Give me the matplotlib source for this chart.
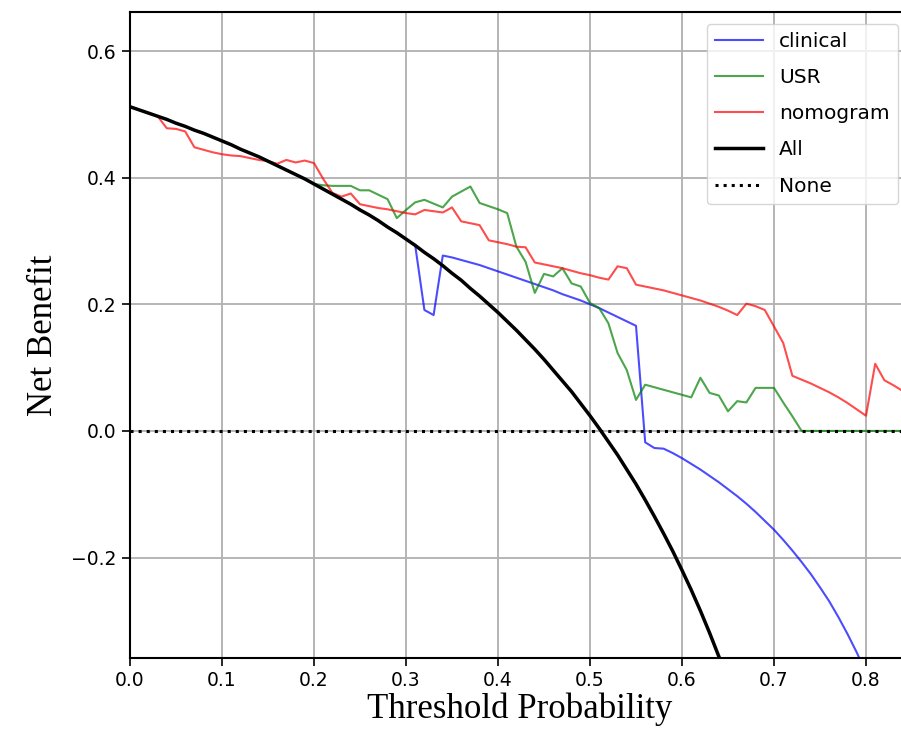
import numpy as np
import matplotlib
matplotlib.use("Agg")
import matplotlib.pyplot as plt

# ==========================================
# Data
# ==========================================

thresholds = np.round(np.arange(0, 0.85, 0.01), 2)

all_nb = [0.512, 0.507, 0.502, 0.497, 0.492, 0.486, 0.481, 0.475, 0.470, 0.464,
          0.458, 0.452, 0.445, 0.439, 0.433, 0.426, 0.419, 0.412, 0.405, 0.398,
          0.390, 0.382, 0.374, 0.366, 0.358, 0.349, 0.341, 0.332, 0.322, 0.313,
          0.303, 0.293, 0.282, 0.272, 0.261, 0.249, 0.238, 0.225, 0.213, 0.200,
          0.187, 0.173, 0.159, 0.144, 0.129, 0.113, 0.096, 0.079, 0.062, 0.043,
          0.024, 0.004, -0.017, -0.038, -0.061, -0.084, -0.109, -0.135, -0.162, -0.190,
          -0.220, -0.251, -0.284, -0.319, -0.356, -0.394]

nomogram_nb = [0.512, 0.507, 0.502, 0.497, 0.478, 0.477, 0.473, 0.448, 0.444, 0.440,
               0.437, 0.435, 0.434, 0.431, 0.428, 0.426, 0.422, 0.428, 0.424, 0.427,
               0.423, 0.398, 0.376, 0.370, 0.375, 0.358, 0.355, 0.352, 0.350, 0.347,
               0.344, 0.342, 0.349, 0.347, 0.345, 0.353, 0.331, 0.328, 0.325, 0.301,
               0.298, 0.295, 0.291, 0.290, 0.266, 0.263, 0.260, 0.257, 0.253, 0.249,
               0.246, 0.242, 0.239, 0.260, 0.257, 0.231, 0.228, 0.225, 0.222, 0.218,
               0.214, 0.210, 0.206, 0.201, 0.196, 0.190, 0.183, 0.201, 0.197, 0.191,
               0.165, 0.139, 0.087, 0.081, 0.075, 0.068, 0.061, 0.053, 0.044, 0.034,
               0.024, 0.106, 0.080, 0.072, 0.063]

usr_start = 20
usr_nb = [0.390, 0.388, 0.387, 0.387, 0.387, 0.380, 0.380, 0.373, 0.366, 0.336,
          0.349, 0.361, 0.365, 0.359, 0.353, 0.370, 0.378, 0.386, 0.360, 0.355,
          0.350, 0.344, 0.291, 0.267, 0.218, 0.248, 0.244, 0.257, 0.233, 0.228,
          0.202, 0.194, 0.170, 0.123, 0.096, 0.049, 0.073, 0.069, 0.065, 0.061,
          0.057, 0.053, 0.084, 0.060, 0.056, 0.031, 0.047, 0.045, 0.068, 0.068,
          0.068, 0.045, 0.023, 0.0, 0.0, 0.0, 0.0, 0.0, 0.0, 0.0,
          0.0, 0.0, 0.0, 0.0, 0.0]

clinical_start = 31
clinical_nb = [0.293, 0.191, 0.183, 0.277, 0.274, 0.270, 0.266, 0.262, 0.257,
               0.252, 0.247, 0.242, 0.237, 0.232, 0.227, 0.222, 0.216, 0.211, 0.206,
               0.200, 0.194, 0.187, 0.180, 0.173, 0.166, -0.018, -0.027, -0.028, -0.035,
               -0.043, -0.052, -0.061, -0.071, -0.081, -0.092, -0.103, -0.115, -0.128, -0.142,
               -0.156, -0.172, -0.189, -0.207, -0.226, -0.247, -0.269, -0.294, -0.321, -0.350,
               -0.382]

none_nb = [0.0] * len(thresholds)

# ==========================================
# Plot
# ==========================================

W, H = 901, 740
fig = plt.figure(figsize=(W / 100, H / 100), dpi=100)
ax = fig.add_axes([130 / W, 1 - 658 / H, 780 / W, 646 / H])

ax.plot(thresholds[clinical_start:clinical_start + len(clinical_nb)], clinical_nb,
        color="blue", alpha=0.7, lw=1.5, label="clinical")
ax.plot(thresholds[usr_start:usr_start + len(usr_nb)], usr_nb,
        color="green", alpha=0.7, lw=1.5, label="USR")
ax.plot(thresholds[:len(nomogram_nb)], nomogram_nb,
        color="red", alpha=0.7, lw=1.5, label="nomogram")
ax.plot(thresholds[:len(all_nb)], all_nb, color="black", lw=2.5, label="All")
ax.plot(thresholds, none_nb, color="black", lw=2.2, linestyle=":", label="None")

ax.set_xlim(0, 780 / 920)
ax.set_ylim(-(658 - 431) / 633, 0.6 + (51 - 12) / 633)
ax.set_xticks(np.arange(0, 0.81, 0.1))
ax.set_yticks([-0.2, 0.0, 0.2, 0.4, 0.6])
ax.tick_params(labelsize=13.5, length=6, width=1.2)
ax.grid(True, color="#b0b0b0", lw=1.3)
for s in ax.spines.values():
    s.set_linewidth(1.5)

ax.set_xlabel("Threshold Probability", family="Liberation Serif", fontsize=25, labelpad=2)
ax.set_ylabel("Net Benefit", family="Liberation Serif", fontsize=25, labelpad=8)

ax.legend(loc="upper right", fontsize=14.5, handlelength=2.4, handletextpad=0.8,
          labelspacing=0.85, borderaxespad=0.6)

fig.savefig("out.png", dpi=100)
